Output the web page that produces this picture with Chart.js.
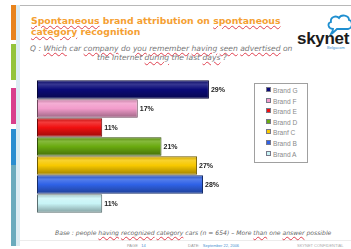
<!DOCTYPE html>
<html><head><meta charset="utf-8">
<script src="https://cdn.jsdelivr.net/npm/chart.js@4.4.1/dist/chart.umd.min.js"></script>
<style>
html,body{margin:0;padding:0;background:#fff;}
body{width:351px;height:249px;position:relative;overflow:hidden;font-family:"Liberation Sans",Arial,sans-serif;}
.a{position:absolute;white-space:nowrap;}
.sq{text-decoration:underline wavy #e04050;text-decoration-thickness:1px;text-underline-offset:1px;}
#title{left:31px;top:16px;font-family:"DejaVu Sans",sans-serif;font-weight:bold;font-size:9.3px;line-height:10.5px;color:#f5a032;}
#q,#q2{font-family:"DejaVu Sans",sans-serif;font-style:italic;font-size:7.6px;line-height:10px;color:#777;}
#q{left:30px;top:44px;}
#q2{left:97px;top:53px;}
#base{left:55px;top:229px;font-family:"DejaVu Sans",sans-serif;font-style:italic;font-size:6.1px;color:#666;}
.ft{top:243px;font-size:4px;color:#999;}
.ft b{font-weight:normal;color:#4a8fd0;}
#legend{left:254px;top:83px;width:52px;height:78px;border:1px solid #a0a0a0;}
.li{position:absolute;left:11px;font-size:6.6px;color:#8a8a8a;line-height:8px;}
.li i{display:inline-block;width:3px;height:3px;margin-right:2px;vertical-align:1px;border:1px solid #778;}
</style></head><body>
<!-- slide decorations -->
<div class="a" style="left:11px;top:5px;width:340px;height:1px;background:#b8b8b8"></div>
<div class="a" style="left:16px;top:5px;width:4px;height:241px;background:#dbecf2"></div>
<div class="a" style="left:11px;top:5px;width:5px;height:35px;background:#e8841e"></div>
<div class="a" style="left:11px;top:44px;width:5px;height:36px;background:#94c43c"></div>
<div class="a" style="left:11px;top:88px;width:5px;height:36px;background:#d9408c"></div>
<div class="a" style="left:11px;top:129px;width:5px;height:36px;background:#2a8ed0"></div>
<div class="a" style="left:11px;top:165px;width:5px;height:81px;background:#6aabbd"></div>
<div class="a" style="left:20px;top:240px;width:331px;height:1px;background:#ececec"></div>

<div id="title" class="a"><span class="sq">Spontaneous</span> brand attribution on <span class="sq">spontaneous</span><br><span class="sq">category</span> recognition</div>
<div id="q" class="a">Q : <span class="sq">Which</span> car <span class="sq">company</span> do <span class="sq">you</span> <span class="sq">remember</span> <span class="sq">having</span> <span class="sq">seen</span> <span class="sq">advertised</span> on</div>
<div id="q2" class="a">the Internet <span class="sq">during</span> the last <span class="sq">days</span> ?</div>

<svg class="a" style="left:290px;top:10px" width="61" height="44" viewBox="0 0 61 44">
 <path d="M43 19 C38 19 37 13 41 12 C40 7 46 5 49 8 C51 4 59 5 59 10 C63 11 63 18 58 19 L47 19 C45 21 43 23 41 24 C42 22 43 21 43 19 Z" fill="none" stroke="#1f8fd0" stroke-width="1.8"/>
 <text x="7" y="34" font-family="Liberation Sans, Arial" font-weight="bold" font-size="17" fill="#1b1b1b" letter-spacing="-0.3">skynet</text>
 <text x="37" y="39" font-family="Liberation Sans, Arial" font-size="4" fill="#3a8fd0">Belgacom</text>
</svg>

<div class="a" style="left:37px;top:80px;width:217px;height:133px"><canvas id="c" width="217" height="133"></canvas></div>

<div id="legend" class="a"></div>

<div id="base" class="a">Base : people <span class="sq">having</span> <span class="sq">recognized</span> <span class="sq">category</span> cars (n = 654) – More <span class="sq">than</span> one <span class="sq">answer</span> possible</div>
<div class="a ft" style="left:127px">PAGE&nbsp;&nbsp;&nbsp;<b>14</b></div>
<div class="a ft" style="left:188px">DATE:&nbsp;&nbsp;&nbsp;<b>September 22, 2006</b></div>
<div class="a ft" style="left:297px;color:#aaa">SKYNET CONFIDENTIAL</div>

<script>
// ---- data ----
const categories = ['Brand G','Brand F','Brand E','Brand D','Branf C','Brand B','Brand A'];
const values = [29, 17, 11, 21, 27, 28, 11];
const valueSuffix = '%';
// ---- styles ----
const barColors = ['#0a0a78','#f29ccb','#f01010','#6aaa10','#f7c800','#2f62e6','#c8f4f6'];

function shade(hex, f){
  const n=parseInt(hex.slice(1),16);let r=n>>16,g=(n>>8)&255,b=n&255;
  if(f<0){r=r*(1+f);g=g*(1+f);b=b*(1+f);}else{r=r+(255-r)*f;g=g+(255-g)*f;b=b+(255-b)*f;}
  return 'rgb('+Math.round(r)+','+Math.round(g)+','+Math.round(b)+')';
}
const catPct = 0.97;
function grad(ctx){
  const chart=ctx.chart, base=barColors[ctx.dataIndex];
  const area=chart.chartArea, ys=chart.scales.y;
  if(!area||!ys) return base;
  const yc=ys.getPixelForValue(ctx.dataIndex);
  const h=area.height/categories.length*catPct;
  const g=chart.ctx.createLinearGradient(0,yc-h/2,0,yc+h/2);
  g.addColorStop(0,shade(base,-0.2));
  g.addColorStop(0.22,shade(base,0.18));
  g.addColorStop(0.5,base);
  g.addColorStop(1,shade(base,-0.35));
  return g;
}
const valueLabels={id:'valueLabels',afterDatasetsDraw(chart){
  const c=chart.ctx, meta=chart.getDatasetMeta(0);
  c.save();c.font='bold 7px "Liberation Sans", Arial';c.fillStyle='#222';c.textBaseline='middle';
  meta.data.forEach((el,i)=>{c.fillText(values[i]+valueSuffix, el.x+2, el.y+0.5);});
  c.restore();
}};
new Chart(document.getElementById('c'),{
  type:'bar',
  data:{labels:categories,datasets:[{data:values,backgroundColor:grad,borderColor:barColors.map(c=>shade(c,-0.55)),borderWidth:1,borderSkipped:false,barPercentage:1,categoryPercentage:catPct}]},
  options:{indexAxis:'y',responsive:false,animation:false,devicePixelRatio:1,
    layout:{padding:0},
    scales:{x:{type:'linear',min:0,max:36.6,display:false},y:{display:false}},
    plugins:{legend:{display:false},tooltip:{enabled:false}}},
  plugins:[valueLabels]
});
// HTML legend built from the same arrays
const lg=document.getElementById('legend');
categories.forEach((name,i)=>{
  const d=document.createElement('div');d.className='li';d.style.top=(3+i*10.6)+'px';
  const s=document.createElement('i');s.style.background=barColors[i];
  d.appendChild(s);d.appendChild(document.createTextNode(name));lg.appendChild(d);
});
</script>
</body></html>
